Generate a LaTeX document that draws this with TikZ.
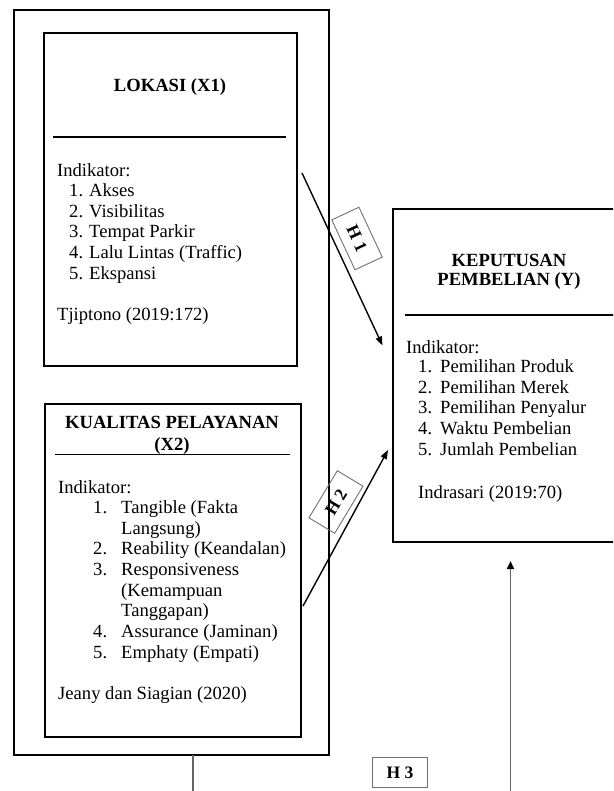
\documentclass[tikz,border=0pt]{standalone}
\usepackage{fontspec}
\setmainfont{Liberation Serif}
\usetikzlibrary{arrows.meta}
\tikzset{
  bx/.style={draw, line width=2.4pt, inner sep=0pt, outer sep=0pt},
  outerbx/.style={draw, line width=2.8pt, inner sep=0pt, outer sep=0pt},
  sepline/.style={line width=1.5pt},
  tx/.style={anchor=base west, inner sep=0pt, font=\fontsize{18.6}{20.5}\selectfont},
  ttl/.style={anchor=base, inner sep=0pt, font=\fontsize{18.6}{20.5}\selectfont\bfseries},
  hbx/.style={draw=black!55, line width=0.9pt, inner sep=0pt, minimum width=55pt, minimum height=30pt, font=\fontsize{17.5}{20}\selectfont\bfseries},
  arr/.style={line width=1.4pt, -{Triangle[length=9pt,width=6.5pt]}},
  garr/.style={draw=black!60, line width=1.9pt, -{Triangle[length=8pt,width=7pt,color=black]}},
  gline/.style={draw=black!60, line width=1.8pt}
}
\begin{document}
\begin{tikzpicture}[x=1pt,y=-1pt]
\clip (0,0) rectangle (613,791);
\fill[white] (0,0) rectangle (613,791);

% boxes
\node[outerbx, minimum width=315pt, minimum height=745pt] (outer) at (171.5,382.5) {};
\node[bx, minimum width=253pt, minimum height=333pt] (x1) at (170.5,199.5) {};
\node[bx, minimum width=256pt, minimum height=333pt] (x2) at (173,570.5) {};
\node[bx, minimum width=232pt, minimum height=333pt] (y) at (509,375.5) {};

% X1 content
\node[ttl] (x1t) at (170,92) {LOKASI (X1)};
\draw[sepline] (53,137) -- (286,137);
\node[tx] (x1ind) at (57,177) {Indikator:};
\node[tx] (x1n1) at (69,197) {1.};   \node[tx] (x1i1) at (89,197) {Akses};
\node[tx] (x1n2) at (69,217.5) {2.}; \node[tx] (x1i2) at (89,217.5) {Visibilitas};
\node[tx] (x1n3) at (69,238) {3.};   \node[tx] (x1i3) at (89,238) {Tempat Parkir};
\node[tx] (x1n4) at (69,258.5) {4.}; \node[tx] (x1i4) at (89,258.5) {Lalu Lintas (Traffic)};
\node[tx] (x1n5) at (69,279) {5.};   \node[tx] (x1i5) at (89,279) {Ekspansi};
\node[tx] (x1src) at (57,320) {Tjiptono (2019:172)};

% X2 content
\node[ttl] (x2t1) at (172,428) {KUALITAS PELAYANAN};
\node[ttl] (x2t2) at (172,450) {(X2)};
\draw[sepline] (55,454.5) -- (290,454.5);
\node[tx] (x2ind) at (58,493) {Indikator:};
\node[tx] (x2n1) at (93,513) {1.}; \node[tx] (x2i1) at (121,513) {Tangible (Fakta};
\node[tx] (x2i1b) at (121,534) {Langsung)};
\node[tx] (x2n2) at (93,554.5) {2.}; \node[tx] (x2i2) at (121,554.5) {Reability (Keandalan)};
\node[tx] (x2n3) at (93,575.5) {3.}; \node[tx] (x2i3) at (121,575.5) {Responsiveness};
\node[tx] (x2i3b) at (121,596) {(Kemampuan};
\node[tx] (x2i3c) at (121,616) {Tanggapan)};
\node[tx] (x2n4) at (93,637.5) {4.}; \node[tx] (x2i4) at (121,637.5) {Assurance (Jaminan)};
\node[tx] (x2n5) at (93,658) {5.}; \node[tx] (x2i5) at (121,658) {Emphaty (Empati)};
\node[tx] (x2src) at (58,699) {Jeany dan Siagian (2020)};

% Y content
\node[ttl] (yt1) at (509,266) {KEPUTUSAN};
\node[ttl] (yt2) at (509,285.5) {PEMBELIAN (Y)};
\draw[sepline] (405,315) -- (625,315);
\node[tx] (yind) at (406,353) {Indikator:};
\node[tx] (yn1) at (418,372.5) {1.}; \node[tx] (yi1) at (440,372.5) {Pemilihan Produk};
\node[tx] (yn2) at (418,393) {2.}; \node[tx] (yi2) at (440,393) {Pemilihan Merek};
\node[tx] (yn3) at (418,413.5) {3.}; \node[tx] (yi3) at (440,413.5) {Pemilihan Penyalur};
\node[tx] (yn4) at (418,434.5) {4.}; \node[tx] (yi4) at (440,434.5) {Waktu Pembelian};
\node[tx] (yn5) at (418,455) {5.}; \node[tx] (yi5) at (440,455) {Jumlah Pembelian};
\node[tx] (ysrc) at (418,498) {Indrasari (2019:70)};

% connectors
\coordinate (h1s) at (302,173);
\coordinate (h1e) at (382.5,345.5);
\draw[arr] (h1s) -- (h1e);
\node[hbx, rotate=-65] (h1) at (357,238.5) {H 1};

\coordinate (h2s) at (303,606);
\coordinate (h2e) at (388,450);
\draw[arr] (h2s) -- (h2e);
\node[hbx, rotate=59] (h2) at (336,502) {H 2};

\node[hbx] (h3) at (400,772.5) {H 3};

\coordinate (vb) at (510.5,795);
\coordinate (vt) at (510.5,561);
\draw[garr] (vb) -- (vt);

\coordinate (ob) at (193,795);
\draw[gline] (outer.south -| ob) -- (ob);
\end{tikzpicture}
\end{document}
